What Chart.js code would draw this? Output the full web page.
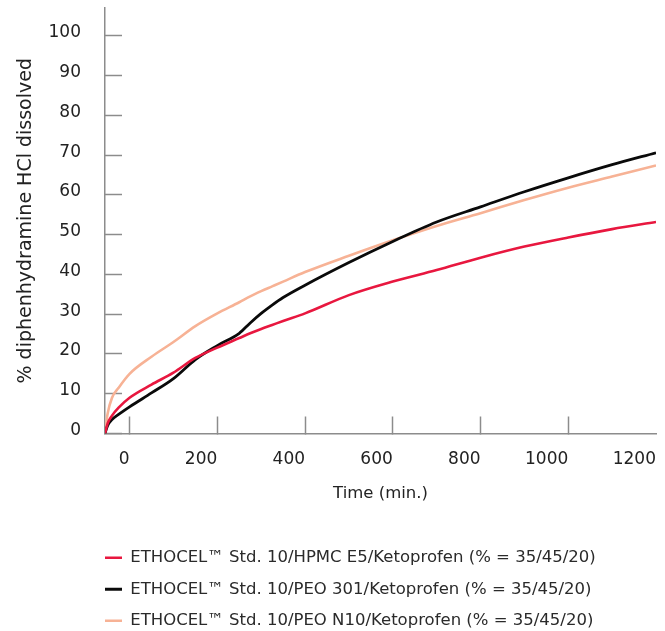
<!DOCTYPE html>
<html>
<head>
<meta charset="utf-8">
<script src="https://cdn.jsdelivr.net/npm/chart.js@4.4.0/dist/chart.umd.min.js"></script>
<style>
  html, body { margin: 0; padding: 0; background: #fff; }
  canvas { display: block; }
</style>
</head>
<body>
<canvas id="chart" width="665" height="631"></canvas>
<script>
// time as drawn on the axis (the curves start at the axis origin, left of the "0" tick)
const timeMin = [-56, -50, -40, -25, 0, 50, 100, 150, 200, 250, 275, 300, 325, 350, 400, 500, 600, 700, 800, 900, 1000, 1100, 1200];

// % dissolved
const hpmcE5 = [0, 2.5, 4.5, 6.5, 9, 12.3, 15.3, 19, 21.6, 24, 25.2, 26.3, 27.3, 28.3, 30.2, 34.8, 38.2, 41.1, 44.2, 47, 49.3, 51.4, 53.2];
const peo301 = [0, 2, 3.5, 4.8, 6.7, 10.2, 13.8, 18.6, 22.1, 25.2, 27.8, 30.2, 32.3, 34.2, 37.3, 43, 48.3, 53.2, 57, 60.8, 64.3, 67.6, 70.6];
const peoN10 = [0, 5, 9, 11.5, 15, 19.3, 23, 27, 30.2, 33, 34.5, 35.8, 37, 38.2, 40.6, 44.7, 48.6, 52.2, 55.4, 58.7, 61.8, 64.6, 67.4];

const seriesNames = [
    'ETHOCEL\u2122 Std. 10/HPMC E5/Ketoprofen (% = 35/45/20)',
    'ETHOCEL\u2122 Std. 10/PEO 301/Ketoprofen (% = 35/45/20)',
    'ETHOCEL\u2122 Std. 10/PEO N10/Ketoprofen (% = 35/45/20)'
];

const xTicks = [0, 200, 400, 600, 800, 1000, 1200];
const yTicks = [0, 10, 20, 30, 40, 50, 60, 70, 80, 90, 100];

const AXIS_GREY = '#8c8c8c';
const TEXT = '#222222';

Chart.defaults.font.family = "'DejaVu Sans', sans-serif";
Chart.defaults.color = TEXT;

const toPoints = vals => timeMin.map((t, i) => ({x: t, y: vals[i]}));

// legend sits under the plot, lined up with the y axis
const legendShift = {
    id: 'legendShift',
    afterLayout(chart) {
        const lg = chart.legend;
        const dx = chart.chartArea.left - lg.options.labels.padding - lg.left;
        lg.left += dx;
        lg.right += dx;
        lg.top += 8;
        lg.bottom += 8;
    }
};

// big tick paddings are only there to place the labels, don't let them eat the plot
const noEdgePadding = axis => {
    axis.paddingTop = 0;
    axis.paddingBottom = 0;
    axis.paddingLeft = 0;
    axis.paddingRight = 0;
};

const ctx = document.getElementById('chart').getContext('2d');

new Chart(ctx, {
    type: 'line',
    data: {
        datasets: [{
            label: seriesNames[0],
            data: toPoints(hpmcE5),
            borderColor: '#e8173f',
            backgroundColor: '#e8173f',
            borderWidth: 2.6,
        }, {
            label: seriesNames[1],
            data: toPoints(peo301),
            borderColor: '#0a0a0a',
            backgroundColor: '#0a0a0a',
            borderWidth: 2.8,
        }, {
            label: seriesNames[2],
            data: toPoints(peoN10),
            borderColor: '#f7b295',
            backgroundColor: '#f7b295',
            borderWidth: 2.6,
        }]
    },
    options: {
        responsive: false,
        animation: false,
        events: [],
        elements: {
            point: { radius: 0 },
            line: { cubicInterpolationMode: 'monotone' }
        },
        layout: {
            padding: { top: 8, right: 9, left: 0, bottom: 0 }
        },
        plugins: {
            tooltip: { enabled: false },
            legend: {
                position: 'bottom',
                align: 'start',
                labels: {
                    usePointStyle: true,
                    pointStyle: 'line',
                    pointStyleWidth: 17,
                    padding: 15,
                    color: '#2a2a2a',
                    font: { size: 16.5 }
                }
            }
        },
        scales: {
            x: {
                type: 'linear',
                min: -56,
                max: 1200,
                afterBuildTicks: axis => { axis.ticks = xTicks.map(v => ({value: v})); },
                afterFit: axis => { axis.height = 93; noEdgePadding(axis); },
                border: { display: true, color: AXIS_GREY, width: 1.5 },
                grid: {
                    drawOnChartArea: false,
                    drawTicks: true,
                    tickLength: -17,
                    tickWidth: 1.5,
                    tickColor: c => (c.tick && c.tick.value === 1200) ? 'rgba(0,0,0,0)' : AXIS_GREY
                },
                ticks: {
                    align: 'end',
                    padding: 33,
                    maxRotation: 0,
                    color: TEXT,
                    font: { size: 17 },
                    callback: v => String(v)
                },
                title: {
                    display: true,
                    text: 'Time (min.)',
                    color: TEXT,
                    font: { size: 16.5 },
                    padding: { top: 0, bottom: 23 }
                }
            },
            y: {
                min: 0,
                max: 107,
                afterBuildTicks: axis => { axis.ticks = yTicks.map(v => ({value: v})); },
                afterFit: axis => { axis.width = 105; noEdgePadding(axis); },
                border: { display: true, color: AXIS_GREY, width: 1.5 },
                grid: {
                    drawOnChartArea: false,
                    drawTicks: true,
                    tickLength: -17,
                    tickWidth: 1.5,
                    tickColor: AXIS_GREY
                },
                ticks: {
                    padding: 41,
                    labelOffset: -3,
                    color: TEXT,
                    font: { size: 17 },
                    callback: v => String(v)
                },
                title: {
                    display: true,
                    text: '% diphenhydramine HCl dissolved',
                    color: TEXT,
                    font: { size: 19 },
                    padding: { top: 15, bottom: 0 }
                }
            }
        }
    },
    plugins: [legendShift]
});
</script>
</body>
</html>
